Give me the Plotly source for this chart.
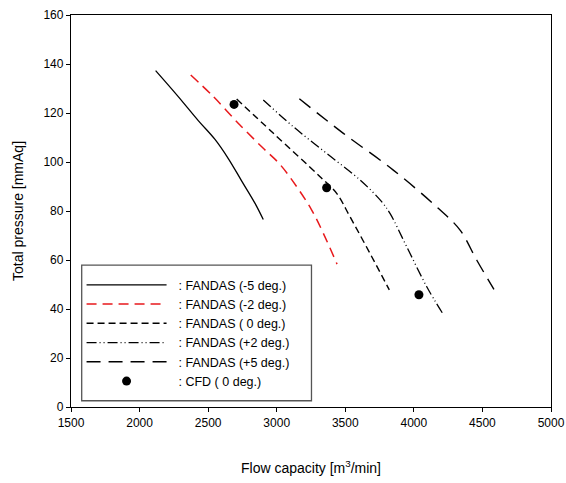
import plotly.graph_objects as go

# FANDAS curves
m5_x = [2117, 2282, 2428, 2550, 2647, 2745, 2842, 2902]
m5_y = [137.3, 126.7, 116.9, 109.2, 101.4, 92.2, 83.1, 76.5]

m2_x = [2373, 2538, 2732, 2902, 3024, 3146, 3255, 3340, 3440]
m2_y = [135.5, 126.7, 115.1, 105.6, 99.0, 89.9, 80.4, 70.9, 58.3]

z0_x = [2708, 2976, 3316, 3437, 3534, 3680, 3821]
z0_y = [125.7, 111.7, 94.0, 87.2, 77.7, 62.7, 47.8]

p2_x = [2902, 3121, 3364, 3607, 3765, 3826, 3948, 4094, 4210]
p2_y = [125.3, 114.4, 103.5, 92.7, 83.8, 79.0, 65.4, 49.1, 38.2]

p5_x = [3165, 3486, 3850, 4178, 4337, 4458, 4584]
p5_y = [125.8, 111.7, 96.7, 81.1, 72.2, 60.0, 48.0]

cfd_x = [2689, 3364, 4037]
cfd_y = [123.5, 89.5, 45.8]

x_ticks = [1500, 2000, 2500, 3000, 3500, 4000, 4500, 5000]
y_ticks = [0, 20, 40, 60, 80, 100, 120, 140, 160]

pad = "\u00a0\u00a0"

fig = go.Figure()
fig.add_trace(go.Scatter(x=m5_x, y=m5_y, mode="lines", name=pad + ": FANDAS (-5 deg.)",
                         line=dict(color="black", width=1.3, shape="spline")))
fig.add_trace(go.Scatter(x=m2_x, y=m2_y, mode="lines", name=pad + ": FANDAS (-2 deg.)",
                         line=dict(color="#e8191c", width=1.5, dash="10px,6px", shape="spline")))
fig.add_trace(go.Scatter(x=z0_x, y=z0_y, mode="lines", name=pad + ": FANDAS ( 0 deg.)",
                         line=dict(color="black", width=1.4, dash="7px,4px", shape="spline")))
fig.add_trace(go.Scatter(x=p2_x, y=p2_y, mode="lines", name=pad + ": FANDAS (+2 deg.)",
                         line=dict(color="black", width=1.3, dash="10px,3px,1px,3px,1px,3px", shape="spline")))
fig.add_trace(go.Scatter(x=p5_x, y=p5_y, mode="lines", name=pad + ": FANDAS (+5 deg.)",
                         line=dict(color="black", width=1.4, dash="14px,8px", shape="spline")))
fig.add_trace(go.Scatter(x=cfd_x, y=cfd_y, mode="markers", name=pad + ": CFD ( 0 deg.)",
                         marker=dict(color="black", size=9)))

axis_common = dict(showline=True, linecolor="black", linewidth=1.3, mirror=True,
                   ticks="outside", ticklen=4, tickcolor="black", tickwidth=1.3,
                   showgrid=False, zeroline=False, automargin=False,
                   tickfont=dict(family="Liberation Sans, Arial", size=12, color="black"))

fig.update_layout(
    width=566, height=483,
    margin=dict(l=71, r=15, t=15, b=76),
    paper_bgcolor="white", plot_bgcolor="white",
    font=dict(family="Liberation Sans, Arial", color="black"),
    xaxis=dict(range=[1500, 5000], tickvals=x_ticks,
               title=dict(text="Flow capacity [m<sup>3</sup>/min]", font=dict(size=14), standoff=34),
               **axis_common),
    yaxis=dict(range=[0, 160], tickvals=y_ticks,
               title=dict(text="Total pressure [mmAq]", font=dict(size=14), standoff=16),
               **axis_common),
    legend=dict(x=0.022, y=0.349, xanchor="left", yanchor="top",
                bgcolor="rgba(0,0,0,0)", borderwidth=0,
                font=dict(size=12.5, color="black"), itemwidth=80,
                tracegroupgap=0),
    shapes=[dict(type="rect", xref="paper", yref="paper",
                 x0=0.0223, x1=0.501, y0=0.016, y1=0.362,
                 line=dict(color="#555555", width=1.3), fillcolor="white", layer="above")],
    showlegend=True,
)

fig.write_html("out.html")
